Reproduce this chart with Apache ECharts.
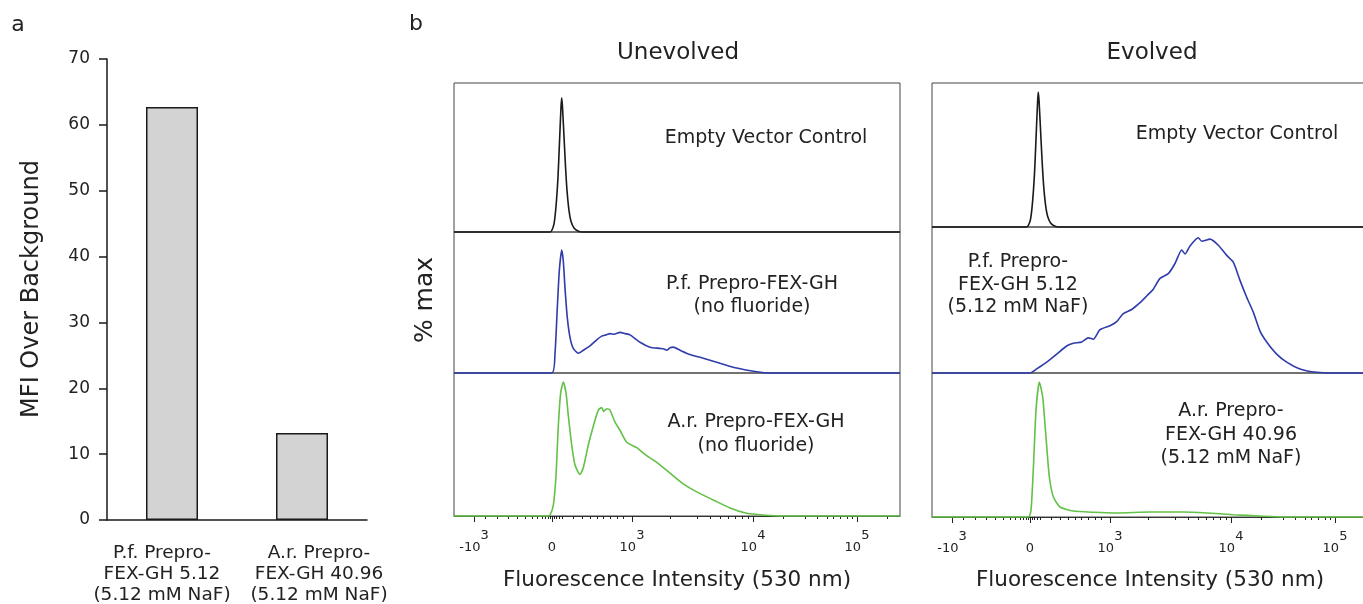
<!DOCTYPE html>
<html>
<head>
<meta charset="utf-8">
<script src="https://cdn.jsdelivr.net/npm/echarts@6/dist/echarts.min.js"></script>
<style>
  html, body { margin: 0; padding: 0; background: #fff; }
  #chart { width: 1363px; height: 604px; }
</style>
</head>
<body>
<div id="chart"></div>
<script>
// panel a: MFI bars
const barCategories = ['P.f. Prepro-\nFEX-GH 5.12\n(5.12 mM NaF)', 'A.r. Prepro-\nFEX-GH 40.96\n(5.12 mM NaF)']
const barValues = [62.7, 13.2]

// panel b: display-scale positions of the fluorescence axis ticks
const majorTickPos = [20, 98, 178, 299, 403]
const majorTickBase = ['-10', '0', '10', '10', '10']
const majorTickExp = ['3', '', '3', '4', '5']
const minorTickPos = [31, 43, 54, 63, 71, 78, 83, 88, 91, 94, 96, 100, 102, 105, 108,
  119, 128, 136, 143, 149, 156, 163, 169,
  216, 243, 256, 266, 274, 281, 288, 294,
  329, 351, 363, 373, 379, 386, 393, 398, 433]

// histograms, [display position, % max]
const unevolvedEmpty = [[0, 0], [96, 0], [98, 1.5], [100, 6], [102, 19], [104, 41], [105.5, 67], [107, 93], [107.7, 100], [108.5, 93], [110, 71], [111.5, 49], [113, 31], [115, 16], [117, 8], [120, 3], [124, 0.7], [128, 0], [446, 0]]
const unevolvedPf = [[0, 0], [97.7, 0], [101, 16], [103.3, 53], [105.3, 83], [107.7, 100], [109.3, 91], [111, 69], [113.3, 45], [116, 29], [119.3, 20], [124.3, 16], [129.3, 18.5], [136, 22], [142.7, 27], [147.7, 30], [152, 31], [156, 32], [160, 31.5], [166, 33], [171, 32], [176, 31], [186, 25], [196, 21], [206, 20], [210, 19.5], [212.7, 18.5], [216, 20.5], [219.3, 21], [226, 18.5], [236, 15], [249.3, 12], [266, 8], [282.7, 4], [302.7, 1], [316, 0], [446, 0]]
const unevolvedAr = [[0, 0], [94, 0], [96, 0.7], [99.3, 8], [102, 30], [104.3, 67], [106.7, 92], [109.3, 100], [112, 92], [114.3, 75], [117.7, 53], [121, 38], [126, 31], [129.3, 36], [134.3, 53], [139.3, 67], [144.3, 79], [147.7, 81], [149.5, 78], [151, 79], [153, 80], [156, 79], [161, 70], [166, 64], [172.7, 55], [182.7, 51], [192.7, 45], [202.7, 40], [216, 32], [229.3, 24], [242.7, 18], [259.3, 12], [276, 6], [292.7, 2], [309.3, 0.7], [329.3, 0], [446, 0]]
const evolvedEmpty = [[0, 0], [94.6, 0], [96.6, 1.5], [98.6, 6], [100.6, 19], [102.6, 41], [104.1, 67], [105.6, 93], [106.3, 100], [107.1, 93], [108.6, 71], [110.1, 49], [111.6, 31], [113.6, 16], [115.6, 8], [118.6, 3], [122.6, 0.7], [126.6, 0], [446, 0]]
const evolvedPf = [[0, 0], [98, 0], [104.7, 3], [114.7, 8], [124.7, 14], [134.7, 20], [141.3, 22], [149.7, 23], [156.3, 26], [161.3, 25], [168, 32], [178, 35], [184.7, 38], [191.3, 44], [199.7, 47], [208, 52], [214.7, 57], [221.3, 62], [228, 70], [236.3, 73.5], [243, 81], [249.7, 91], [253, 88], [258, 94], [266.3, 100], [269.7, 97.5], [278, 99], [286.3, 94.5], [294.7, 87], [301.3, 82], [308, 68.5], [314.7, 56], [321.3, 45], [328, 31], [334.7, 23], [344.7, 14], [354.7, 8], [368, 3], [384.7, 0.5], [401.3, 0], [446, 0]]
const evolvedAr = [[0, 0], [96.3, 0], [99, 5], [101.3, 35], [104, 79], [107.3, 100], [110.7, 89], [114, 59], [117.3, 30], [121.3, 15], [128, 7.4], [141.3, 4.4], [161.3, 3.5], [184.7, 3], [218, 3.7], [251.3, 3.7], [274.7, 3], [301.3, 1.7], [328, 0.7], [351.3, 0], [446, 0]]

const FONT = 'DejaVu Sans'
const TXT = '#222'
const BLACK = '#1a1a1a'
const BLUE = '#2f3caa'
const GREEN = '#62c146'

const chart = echarts.init(document.getElementById('chart'))

// histogram sub-panels: [left, top, height, yMax, data, color]
const panels = [
  [454, 83, 149, 111, unevolvedEmpty, BLACK],
  [454, 232, 141, 114.6, unevolvedPf, BLUE],
  [454, 373, 143, 106.7, unevolvedAr, GREEN],
  [932, 83, 144, 106.7, evolvedEmpty, BLACK],
  [932, 227, 146, 108, evolvedPf, BLUE],
  [932, 373, 144, 106.7, evolvedAr, GREEN]
]

const grids = [{ left: 107, top: 59, width: 260, height: 461, outerBoundsMode: 'none' }]
const xAxes = [{
  gridIndex: 0,
  type: 'category',
  data: [
    { value: barCategories[0], textStyle: { padding: [0, 20, 0, 0] } },
    { value: barCategories[1], textStyle: { padding: [0, 0, 0, 34] } }
  ],
  axisLine: { lineStyle: { color: BLACK, width: 1.5 } },
  axisTick: { length: 8, lineStyle: { color: BLACK, width: 1.5 } },
  axisLabel: { interval: 0, fontFamily: FONT, fontSize: 18.5, lineHeight: 21, color: TXT, margin: 23 }
}]
const yAxes = [{
  gridIndex: 0,
  type: 'value',
  min: 0,
  max: 70,
  interval: 10,
  axisLine: { show: true, lineStyle: { color: BLACK, width: 1.5 } },
  axisTick: { show: true, length: 8, lineStyle: { color: BLACK, width: 1.5 } },
  axisLabel: { fontFamily: FONT, fontSize: 17, color: TXT, margin: 17 },
  splitLine: { show: false }
}]
const series = [{
  type: 'bar',
  xAxisIndex: 0,
  yAxisIndex: 0,
  data: barValues,
  barWidth: 52,
  itemStyle: { color: '#d3d3d3', borderColor: BLACK, borderWidth: 1.5 },
  silent: true
}]

panels.forEach((p, i) => {
  const gi = i + 1
  const bottom = (i % 3) === 2
  grids.push({
    left: p[0], top: p[1], width: 446, height: p[2],
    show: true, borderColor: '#444', borderWidth: 1, outerBoundsMode: 'none'
  })
  const xa = {
    gridIndex: gi, type: 'value', min: 0, max: 446, position: 'bottom',
    splitLine: { show: false }
  }
  if (bottom) {
    Object.assign(xa, {
      axisLine: { show: true, lineStyle: { color: '#333' } },
      axisTick: { show: true, length: 6, customValues: majorTickPos, lineStyle: { color: '#222' } },
      axisLabel: {
        customValues: majorTickPos,
        margin: 18,
        formatter: (v) => {
          const k = majorTickPos.indexOf(v)
          if (k < 0) return ''
          return majorTickExp[k] ? `{b|${majorTickBase[k]}}{s|${majorTickExp[k]}}` : `{b|${majorTickBase[k]}}`
        },
        // both fragments are equally tall, the padding lifts the exponent
        rich: {
          b: { fontFamily: FONT, fontSize: 13, color: TXT, lineHeight: 15, padding: [12, 0, 0, 0] },
          s: { fontFamily: FONT, fontSize: 13, color: TXT, lineHeight: 15, padding: [0, 0, 12, 0] }
        }
      }
    })
  } else {
    xa.show = false
  }
  xAxes.push(xa)
  if (bottom) {
    // minor ticks on a second, label-less axis
    xAxes.push({
      gridIndex: gi, type: 'value', min: 0, max: 446, position: 'bottom',
      axisLine: { show: false },
      axisTick: { show: true, length: 3, customValues: minorTickPos, lineStyle: { color: '#222' } },
      axisLabel: { show: false },
      splitLine: { show: false }
    })
  }
  yAxes.push({ gridIndex: gi, type: 'value', min: 0, max: p[3], show: false })
  series.push({
    type: 'line',
    xAxisIndex: xAxes.length - (bottom ? 2 : 1),
    yAxisIndex: gi,
    data: p[4],
    showSymbol: false,
    smooth: 0.2,
    clip: false,
    silent: true,
    lineStyle: { color: p[5], width: 1.6 },
    z: 5
  })
})

const txt = (text, x, y, size, extra) => ({
  type: 'text', x, y, silent: true,
  rotation: (extra && extra.rotation) || 0,
  style: {
    text, fontFamily: FONT, fontSize: size, fill: TXT, align: 'center', verticalAlign: 'middle',
    lineHeight: (extra && extra.lineHeight) || undefined
  }
})

const option = {
  animation: false,
  backgroundColor: '#fff',
  grid: grids,
  xAxis: xAxes,
  yAxis: yAxes,
  series,
  graphic: [
    txt('a', 18, 25, 22),
    txt('b', 416, 24, 22),
    txt('MFI Over Background', 32, 289, 24, { rotation: Math.PI / 2 }),
    txt('% max', 425, 300, 25, { rotation: Math.PI / 2 }),
    txt('Unevolved', 678, 53, 23),
    txt('Evolved', 1152, 53, 23),
    txt('Fluorescence Intensity (530 nm)', 677, 580, 21.5),
    txt('Fluorescence Intensity (530 nm)', 1150, 580, 21.5),
    txt('Empty Vector Control', 766, 138, 19),
    txt('P.f. Prepro-FEX-GH\n(no fluoride)', 752, 296, 19, { lineHeight: 23 }),
    txt('A.r. Prepro-FEX-GH\n(no fluoride)', 756, 434, 19, { lineHeight: 24 }),
    txt('Empty Vector Control', 1237, 134, 19),
    txt('P.f. Prepro-\nFEX-GH 5.12\n(5.12 mM NaF)', 1018, 285, 19, { lineHeight: 22.5 }),
    txt('A.r. Prepro-\nFEX-GH 40.96\n(5.12 mM NaF)', 1231, 435, 19, { lineHeight: 23.5 })
  ]
}

chart.setOption(option)

window.addEventListener('resize', () => chart.resize())
</script>
</body>
</html>
